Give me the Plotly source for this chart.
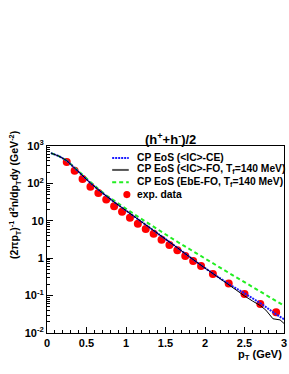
import plotly.graph_objects as go

# experimental data
pt_data = [0.25, 0.35, 0.45, 0.55, 0.65, 0.75, 0.85, 0.95, 1.05, 1.15, 1.25,
           1.35, 1.45, 1.55, 1.65, 1.75, 1.85, 1.95, 2.1, 2.3, 2.5, 2.7, 2.9]
y_data = [372, 219, 132, 81, 55, 37, 24.5, 17.4, 12.0, 8.3, 6.0,
          4.5, 3.1, 2.24, 1.62, 1.15, 0.84, 0.62, 0.38, 0.21, 0.11, 0.060, 0.036]

# CP EoS (<IC>-CE)
pt_blue = [0.05, 0.15, 0.25, 0.35, 0.45, 0.55, 0.65, 0.75, 0.85, 0.95, 1.05, 1.15, 1.25,
           1.35, 1.45, 1.55, 1.65, 1.75, 1.85, 1.95, 2.1, 2.3, 2.5, 2.7, 2.9, 3.0]
y_blue = [646, 537, 407, 257, 158, 102, 67.6, 45.7, 31.6, 22.4, 15.8, 11.2, 7.94,
          5.62, 3.98, 2.82, 1.91, 1.32, 0.91, 0.646, 0.389, 0.204, 0.115, 0.063, 0.0316, 0.0234]

# CP EoS (<IC>-FO, Tf=140 MeV)
pt_black = [0.05, 0.15, 0.25, 0.35, 0.45, 0.55, 0.65, 0.75, 0.85, 0.95, 1.05, 1.15, 1.25,
            1.35, 1.45, 1.55, 1.65, 1.75, 1.85, 1.95, 2.1, 2.2, 2.3, 2.4, 2.5, 2.6, 2.7,
            2.77, 2.86, 2.95, 3.0]
y_black = [646, 537, 407, 257, 158, 102, 67.6, 45.7, 31.6, 22.4, 15.8, 11.2, 7.94,
           5.62, 3.98, 2.82, 1.91, 1.32, 0.91, 0.646, 0.389, 0.275, 0.186, 0.135, 0.098, 0.072, 0.054,
           0.041, 0.024, 0.0224, 0.018]

# CP EoS (EbE-FO, Tf=140 MeV)
pt_green = [0.05, 0.15, 0.25, 0.35, 0.45, 0.55, 0.65, 0.75, 0.85, 0.95, 1.05, 1.15, 1.25,
            1.35, 1.45, 1.55, 1.65, 1.75, 1.85, 1.95, 2.1, 2.3, 2.5, 2.7, 2.9, 3.0]
y_green = [646, 537, 407, 263, 166, 107, 70.8, 47.9, 33.9, 24.5, 17.8, 12.9, 9.33,
           6.76, 5.01, 3.72, 2.75, 2.04, 1.51, 1.12, 0.724, 0.407, 0.229, 0.129, 0.0724, 0.0537]

x_tickvals = [0, 0.5, 1, 1.5, 2, 2.5, 3]
x_ticktext = ["0", "0.5", "1", "1.5", "2", "2.5", "3"]
y_tickvals = [1e3, 1e2, 10, 1, 0.1, 0.01]
y_ticktext = ["10<sup>3</sup>", "10<sup>2</sup>", "10", "1", "10<sup>-1</sup>", "10<sup>-2</sup>"]
y_minor = [k * 10 ** e for e in range(-2, 3) for k in range(2, 10)]

legend_labels = [
    "CP EoS (&lt;IC&gt;-CE)",
    "CP EoS (&lt;IC&gt;-FO, T<sub>f</sub>=140 MeV)",
    "CP EoS (EbE-FO, T<sub>f</sub>=140 MeV)",
    "exp. data",
]

BLUE = "#1a1aff"
GREEN = "#22ee22"
RED = "#ff0000"
FONT = "Liberation Sans"

fig = go.Figure()
fig.add_trace(go.Scatter(x=pt_data, y=y_data, mode="markers",
                         marker=dict(color=RED, size=8, line=dict(width=0)),
                         showlegend=False))
fig.add_trace(go.Scatter(x=pt_green, y=y_green, mode="lines",
                         line=dict(color=GREEN, width=2, dash="4px,3px"), showlegend=False))
fig.add_trace(go.Scatter(x=pt_blue, y=y_blue, mode="lines",
                         line=dict(color=BLUE, width=2, dash="2px,1px"), showlegend=False))
fig.add_trace(go.Scatter(x=pt_black, y=y_black, mode="lines",
                         line=dict(color="black", width=1), showlegend=False))

# manual legend (ROOT-like)
rows_y = [0.936, 0.872, 0.806, 0.740]
sx0, sx1, tx = 0.275, 0.345, 0.372
styles = [dict(color=BLUE, width=2, dash="2px,1px"),
          dict(color="#555555", width=2),
          dict(color=GREEN, width=2, dash="4px,3px")]
for i in range(3):
    fig.add_shape(type="line", xref="paper", yref="paper",
                  x0=sx0, x1=sx1, y0=rows_y[i], y1=rows_y[i], line=styles[i])
fig.add_shape(type="circle", xref="paper", yref="paper",
              x0=0.322, x1=0.352, y0=rows_y[3] - 0.019, y1=rows_y[3] + 0.019,
              fillcolor=RED, line=dict(width=0))
for i, lab in enumerate(legend_labels):
    fig.add_annotation(x=tx, y=rows_y[i], xref="paper", yref="paper", text=lab,
                       showarrow=False, xanchor="left", yanchor="middle",
                       font=dict(size=10.3, family=FONT, weight="bold", color="black"))

# title
fig.add_annotation(x=0.52, y=1.037, xref="paper", yref="paper",
                   text="(h<sup>+</sup>+h<sup>-</sup>)/2", showarrow=False,
                   xanchor="center", yanchor="middle",
                   font=dict(size=13, family=FONT, weight="bold", color="black"))
# y title
fig.add_annotation(x=-0.135, y=0.738, xref="paper", yref="paper",
                   text="(2πp<sub>T</sub>)<sup>-1</sup> d<sup>2</sup>n/dp<sub>T</sub>dy (GeV<sup>-2</sup>)",
                   textangle=-90, showarrow=False, xanchor="center", yanchor="middle",
                   font=dict(size=10.5, family=FONT, weight="bold", color="black"))
# x title
fig.add_annotation(x=1.0, y=-0.118, xref="paper", yref="paper",
                   text="p<sub>T</sub> (GeV)", showarrow=False,
                   xanchor="right", yanchor="middle",
                   font=dict(size=11, family=FONT, weight="bold", color="black"))

fig.update_layout(
    width=289, height=374,
    margin=dict(l=47, r=2, t=146, b=41),
    paper_bgcolor="white", plot_bgcolor="white",
    font=dict(family=FONT, size=11, color="black", weight="bold"),
    showlegend=False,
)
fig.update_xaxes(range=[0, 3], tickmode="array", tickvals=x_tickvals, ticktext=x_ticktext,
                 ticks="inside", ticklen=6, tickwidth=1, tickcolor="black",
                 showline=True, linecolor="black", linewidth=1, mirror=True,
                 showgrid=False, zeroline=False, ticklabeloverflow="allow",
                 minor=dict(ticks="inside", ticklen=3, dtick=0.1, tickcolor="black", showgrid=False),
                 tickfont=dict(size=11, family=FONT, weight="bold"))
fig.update_yaxes(type="log", range=[-2, 3], tickmode="array", tickvals=y_tickvals, ticktext=y_ticktext,
                 ticks="inside", ticklen=6, tickwidth=1, tickcolor="black",
                 showline=True, linecolor="black", linewidth=1, mirror=True,
                 showgrid=False, zeroline=False,
                 minor=dict(ticks="inside", ticklen=3, tickmode="array", tickvals=y_minor,
                            tickcolor="black", showgrid=False),
                 tickfont=dict(size=11, family=FONT, weight="bold"))

# remove the default page margin / scrollbars so the 289x374 figure fills the window exactly
fig.write_html("out.html", config={"displayModeBar": False},
               post_script="document.body.style.margin='0';document.body.style.overflow='hidden';")
